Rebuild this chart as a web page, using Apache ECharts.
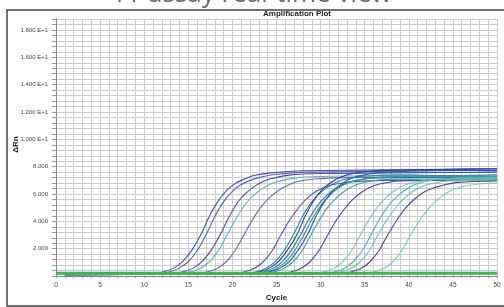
<!DOCTYPE html>
<html>
<head>
<meta charset="utf-8">
<script src="https://cdn.jsdelivr.net/npm/echarts@6/dist/echarts.min.js"></script>
<style>
  html, body { margin: 0; padding: 0; background: #fff; }
  #chart { width: 504px; height: 307px; }
</style>
</head>
<body>
<div id="chart"></div>
<script>
// amplification curves, [cycle, deltaRn]
const curve01 = [[1,0.15],[11.4,0.2],[12.4,0.35],[13.4,0.6],[14.4,1.1],[15.4,1.9],[16.4,3.0],[17.4,4.4],[18.4,5.5],[19.4,6.3],[20.4,6.8],[21.4,7.1],[22.4,7.35],[24.4,7.55],[28,7.7],[35,7.75],[42,7.8],[50,7.85]];
const curve02 = [[1,0.12],[12,0.2],[13,0.33],[14,0.6],[15,1.05],[16,1.85],[17,3.0],[18,4.35],[19,5.45],[20,6.2],[21,6.7],[22,7.0],[23,7.2],[25,7.45],[29,7.6],[36,7.65],[43,7.7],[50,7.75]];
const curve03 = [[1,0.1],[13.6,0.2],[14.6,0.35],[15.6,0.6],[16.6,1.1],[17.6,1.9],[18.6,3.0],[19.6,4.3],[20.6,5.4],[21.6,6.1],[22.6,6.6],[23.6,6.95],[24.6,7.15],[26.6,7.4],[30,7.5],[38,7.55],[50,7.6]];
const curve04 = [[1,0.15],[14.4,0.2],[15.4,0.33],[16.4,0.58],[17.4,1.05],[18.4,1.85],[19.4,3.0],[20.4,4.2],[21.4,5.2],[22.4,5.9],[23.4,6.4],[24.4,6.75],[25.4,6.95],[27.4,7.2],[31,7.3],[40,7.35],[50,7.3]];
const curve05 = [[1,0.1],[16.3,0.2],[17.3,0.33],[18.3,0.58],[19.3,1.05],[20.3,1.85],[21.3,3.0],[22.3,4.15],[23.3,5.1],[24.3,5.8],[25.3,6.3],[26.3,6.65],[27.3,6.9],[29.3,7.1],[33,7.2],[42,7.25],[50,7.2]];
const curve06 = [[1,0.12],[20.5,0.2],[21.5,0.33],[22.5,0.58],[23.5,1.05],[24.5,1.85],[25.5,3.0],[26.5,4.1],[27.5,5.0],[28.5,5.7],[29.5,6.2],[30.5,6.5],[31.5,6.7],[33.5,6.9],[38,7.0],[45,7.05],[50,7.0]];
const curve07 = [[1,0.15],[21.9,0.2],[22.9,0.35],[23.9,0.6],[24.9,1.1],[25.9,1.9],[26.9,3.0],[27.9,4.3],[28.9,5.35],[29.9,6.05],[30.9,6.55],[31.9,6.9],[32.9,7.1],[34.9,7.3],[39,7.4],[45,7.35],[50,7.4]];
const curve08 = [[1,0.1],[22.3,0.2],[23.3,0.35],[24.3,0.62],[25.3,1.12],[26.3,1.95],[27.3,3.0],[28.3,4.45],[29.3,5.6],[30.3,6.4],[31.3,6.9],[32.3,7.25],[33.3,7.45],[35.3,7.65],[39,7.75],[44,7.8],[50,7.85]];
const curve09 = [[1,0.12],[22.7,0.2],[23.7,0.34],[24.7,0.6],[25.7,1.08],[26.7,1.9],[27.7,3.0],[28.7,4.2],[29.7,5.2],[30.7,5.9],[31.7,6.4],[32.7,6.75],[33.7,6.95],[35.7,7.15],[40,7.2],[46,7.25],[50,7.2]];
const curve10 = [[1,0.1],[23.1,0.2],[24.1,0.34],[25.1,0.6],[26.1,1.08],[27.1,1.9],[28.1,3.0],[29.1,4.25],[30.1,5.25],[31.1,5.95],[32.1,6.45],[33.1,6.8],[34.1,7.0],[36.1,7.2],[41,7.3],[50,7.3]];
const curve11 = [[1,0.12],[23.5,0.2],[24.5,0.35],[25.5,0.62],[26.5,1.1],[27.5,1.95],[28.5,3.0],[29.5,4.4],[30.5,5.5],[31.5,6.3],[32.5,6.8],[33.5,7.15],[34.5,7.35],[36.5,7.55],[41,7.7],[46,7.75],[50,7.7]];
const curve12 = [[1,0.1],[23.9,0.2],[24.9,0.33],[25.9,0.58],[26.9,1.05],[27.9,1.85],[28.9,3.0],[29.9,4.15],[30.9,5.1],[31.9,5.8],[32.9,6.3],[33.9,6.65],[34.9,6.85],[36.9,7.05],[42,7.1],[50,7.15]];
const curve13 = [[1,0.12],[25.8,0.2],[26.8,0.33],[27.8,0.58],[28.8,1.05],[29.8,1.85],[30.8,3.0],[31.8,4.1],[32.8,5.0],[33.8,5.7],[34.8,6.2],[35.8,6.55],[36.8,6.75],[38.8,6.95],[43,7.0],[50,7.05]];
const curve14 = [[1,0.15],[29.5,0.2],[30.5,0.33],[31.5,0.58],[32.5,1.05],[33.5,1.85],[34.5,3.0],[35.5,4.15],[36.5,5.1],[37.5,5.8],[38.5,6.3],[39.5,6.65],[40.5,6.85],[42.5,7.05],[46,7.1],[50,7.1]];
const curve15 = [[1,0.1],[30.7,0.2],[31.7,0.33],[32.7,0.58],[33.7,1.05],[34.7,1.85],[35.7,3.0],[36.7,4.2],[37.7,5.15],[38.7,5.85],[39.7,6.35],[40.7,6.7],[41.7,6.9],[43.7,7.1],[47,7.2],[50,7.2]];
const curve16 = [[1,0.12],[31.5,0.2],[32.5,0.33],[33.5,0.58],[34.5,1.05],[35.5,1.85],[36.5,3.0],[37.5,4.1],[38.5,5.0],[39.5,5.7],[40.5,6.2],[41.5,6.55],[42.5,6.75],[44.5,6.95],[50,7.0]];
const curve17 = [[1,0.1],[32.6,0.2],[33.6,0.33],[34.6,0.58],[35.6,1.05],[36.6,1.85],[37.6,3.0],[38.6,4.05],[39.6,4.95],[40.6,5.6],[41.6,6.1],[42.6,6.4],[43.6,6.6],[45.6,6.85],[50,6.95]];
const curve18 = [[1,0.12],[35.2,0.2],[36.2,0.33],[37.2,0.58],[38.2,1.05],[39.2,1.85],[40.2,3.0],[41.2,4.05],[42.2,4.9],[43.2,5.55],[44.2,6.05],[45.2,6.35],[46.2,6.55],[48.2,6.75],[50,6.8]];

const curveColors = ['#4a4fa3','#5b63ad','#534a9c','#5db5a9','#6d6ca8','#5a52a0','#2b8c9c','#22409c','#1d7890',
                     '#2e97a2','#2a57b2','#3aa2aa','#4b4199','#7bc9b9','#56b1a9','#6fc1b5','#4e469a','#7dcbb9'];
const thresholdLine = [[0,0.2],[50,0.2]];
const cycleRange = [0, 50];
const rnRange = [0, 18.8];

const curves = [curve01,curve02,curve03,curve04,curve05,curve06,curve07,curve08,curve09,
                curve10,curve11,curve12,curve13,curve14,curve15,curve16,curve17,curve18];

var chart = echarts.init(document.getElementById('chart'), null, { renderer: 'canvas' });

var series = curves.map(function (c, i) {
  return {
    type: 'line',
    data: c,
    smooth: 0.3,
    showSymbol: false,
    lineStyle: { color: curveColors[i], width: 1.1 },
    z: 3
  };
});
// threshold / baseline band
series.push({
  type: 'line',
  data: thresholdLine,
  showSymbol: false,
  lineStyle: { color: '#3cb54a', width: 3 },
  z: 5
});

// y labels only at every 2 units, skip 0
function rnLabel(v) {
  if (v <= 0) return '';
  var k = v / 2;
  if (Math.abs(k - Math.round(k)) > 1e-6) return '';
  var n = Math.round(v);
  if (n >= 10) return (n / 10).toFixed(3) + ' E+1';
  return n.toFixed(3);
}

var option = {
  animation: false,
  backgroundColor: '#fff',
  graphic: [
    {
      type: 'text', left: 'center', top: -18, z: 1,
      style: { text: 'YY assay real-time view', font: 'normal 26px "Open Sans"', fill: '#6a6a6a' }
    },
    {
      type: 'rect', shape: { x: 7, y: 10, width: 520, height: 296 }, z: 0,
      style: { fill: '#fff', stroke: '#444', lineWidth: 1.5 }
    },
    {
      type: 'text', x: 297, y: 14, z: 10,
      style: { text: 'Amplification Plot', font: 'bold 8px "Liberation Sans"', fill: '#222', align: 'center', verticalAlign: 'middle' }
    }
  ],
  grid: { left: 56, right: 7, top: 19, bottom: 25, show: true, borderColor: '#888', borderWidth: 1, backgroundColor: 'transparent' },
  xAxis: {
    type: 'value',
    min: cycleRange[0], max: cycleRange[1], interval: 1,
    name: 'Cycle', nameLocation: 'middle', nameGap: 16,
    nameTextStyle: { fontFamily: 'Liberation Sans', fontWeight: 'bold', fontSize: 8, color: '#222' },
    axisLine: { lineStyle: { color: '#888' } },
    axisTick: { length: 2, lineStyle: { color: '#999' } },
    axisLabel: {
      fontFamily: 'Liberation Sans', fontSize: 6.5, color: '#444', margin: 6,
      formatter: function (v) { return v % 5 === 0 ? String(v) : ''; }
    },
    splitLine: { lineStyle: { color: '#cbcbcb', width: 1 } }
  },
  yAxis: {
    type: 'value',
    min: rnRange[0], max: rnRange[1], interval: 0.4,
    name: 'ΔRn', nameLocation: 'middle', nameGap: 36, nameRotate: 90, nameMoveOverlap: false,
    nameTextStyle: { fontFamily: 'Liberation Sans', fontWeight: 'bold', fontSize: 8, color: '#222', padding: [0, 0, 0, 6] },
    axisLine: { show: true, lineStyle: { color: '#888' } },
    axisTick: { length: 4, lineStyle: { color: '#999' } },
    axisLabel: { fontFamily: 'Liberation Sans', fontSize: 6, color: '#444', margin: 8, formatter: rnLabel },
    splitLine: { lineStyle: { color: '#cbcbcb', width: 1 } }
  },
  series: series
};
chart.setOption(option);
</script>
</body>
</html>
